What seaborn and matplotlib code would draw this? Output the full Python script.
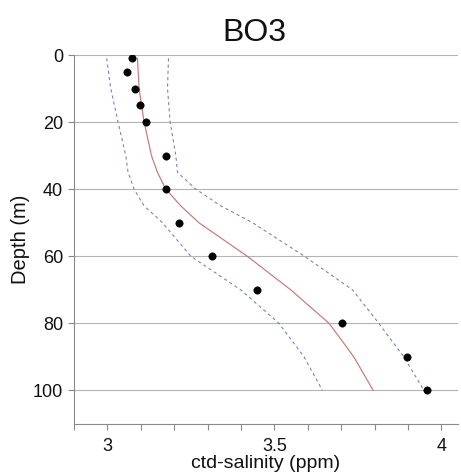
import numpy as np
import pandas as pd
import seaborn as sns
import matplotlib.pyplot as plt
from matplotlib.ticker import MultipleLocator

# observed salinity by depth
obs_depth = [1, 5, 10, 15, 20, 30, 40, 50, 60, 70, 80, 90, 100]
obs_sal = [3.075, 3.06, 3.083, 3.098, 3.115, 3.177, 3.175, 3.213, 3.314, 3.449, 3.703, 3.898, 3.958]

# fitted profile and bounds
fit_depth = [1, 10, 20, 30, 35, 40, 45, 50, 60, 70, 80, 90, 100]
fit_mean = [3.09, 3.095, 3.11, 3.132, 3.15, 3.175, 3.22, 3.274, 3.419, 3.549, 3.664, 3.738, 3.796]
fit_low = [2.998, 3.01, 3.032, 3.055, 3.062, 3.08, 3.11, 3.165, 3.25, 3.399, 3.514, 3.589, 3.644]
fit_high = [3.183, 3.18, 3.188, 3.205, 3.21, 3.265, 3.34, 3.435, 3.59, 3.734, 3.813, 3.888, 3.948]

obs = pd.DataFrame({'depth': obs_depth, 'sal': obs_sal})
fit = pd.DataFrame({'depth': fit_depth, 'mean': fit_mean, 'low': fit_low, 'high': fit_high})

sns.set_style('white')
plt.rcParams['font.family'] = ['Liberation Sans', 'DejaVu Sans']
plt.rcParams['text.color'] = '#111111'
plt.rcParams['axes.labelcolor'] = '#111111'
plt.rcParams['xtick.labelcolor'] = '#111111'
plt.rcParams['ytick.labelcolor'] = '#111111'

fig = plt.figure(figsize=(4.61, 4.75), dpi=100)
ax = fig.add_axes([0.1605, 0.1074, 0.833, 0.7768])

sns.lineplot(data=fit, x='low', y='depth', sort=False, estimator=None, color='#6f7db5',
             linestyle=(0, (3, 3)), linewidth=0.75, ax=ax)
sns.lineplot(data=fit, x='high', y='depth', sort=False, estimator=None, color='#6f7db5',
             linestyle=(0, (3, 3)), linewidth=0.75, ax=ax)
sns.lineplot(data=fit, x='mean', y='depth', sort=False, estimator=None, color='#c47a78',
             linewidth=0.85, ax=ax)
sns.scatterplot(data=obs, x='sal', y='depth', color='black', s=28, edgecolor='black', zorder=5, ax=ax)

ax.set_xlim(2.9, 4.05)
ax.set_ylim(110, 0)
ax.set_xticks([3, 3.5, 4])
ax.set_xticklabels(['3', '3.5', '4'])
ax.xaxis.set_minor_locator(MultipleLocator(0.1))
ax.set_yticks([0, 20, 40, 60, 80, 100])
ax.yaxis.grid(True, color='#b4b4b4', linewidth=0.8)
ax.set_axisbelow(True)

for s in ['top', 'right']:
    ax.spines[s].set_visible(False)
for s in ['left', 'bottom']:
    ax.spines[s].set_color('#8a8a8a')
    ax.spines[s].set_linewidth(0.8)

ax.tick_params(axis='both', which='both', direction='out', color='#8a8a8a', width=0.8)
ax.tick_params(axis='x', which='major', length=4, labelsize=13, pad=6)
ax.tick_params(axis='x', which='minor', length=4)
ax.tick_params(axis='y', which='major', length=4, labelsize=13, pad=4, left=True)
ax.tick_params(axis='x', bottom=True, which='both')

ax.set_xlabel('ctd-salinity (ppm)', fontsize=14, labelpad=0)
ax.set_ylabel('Depth (m)', fontsize=14.5, labelpad=2)
ax.set_title('BO3', fontsize=23, x=0.471, pad=10)

fig.savefig('out.png', dpi=100)
